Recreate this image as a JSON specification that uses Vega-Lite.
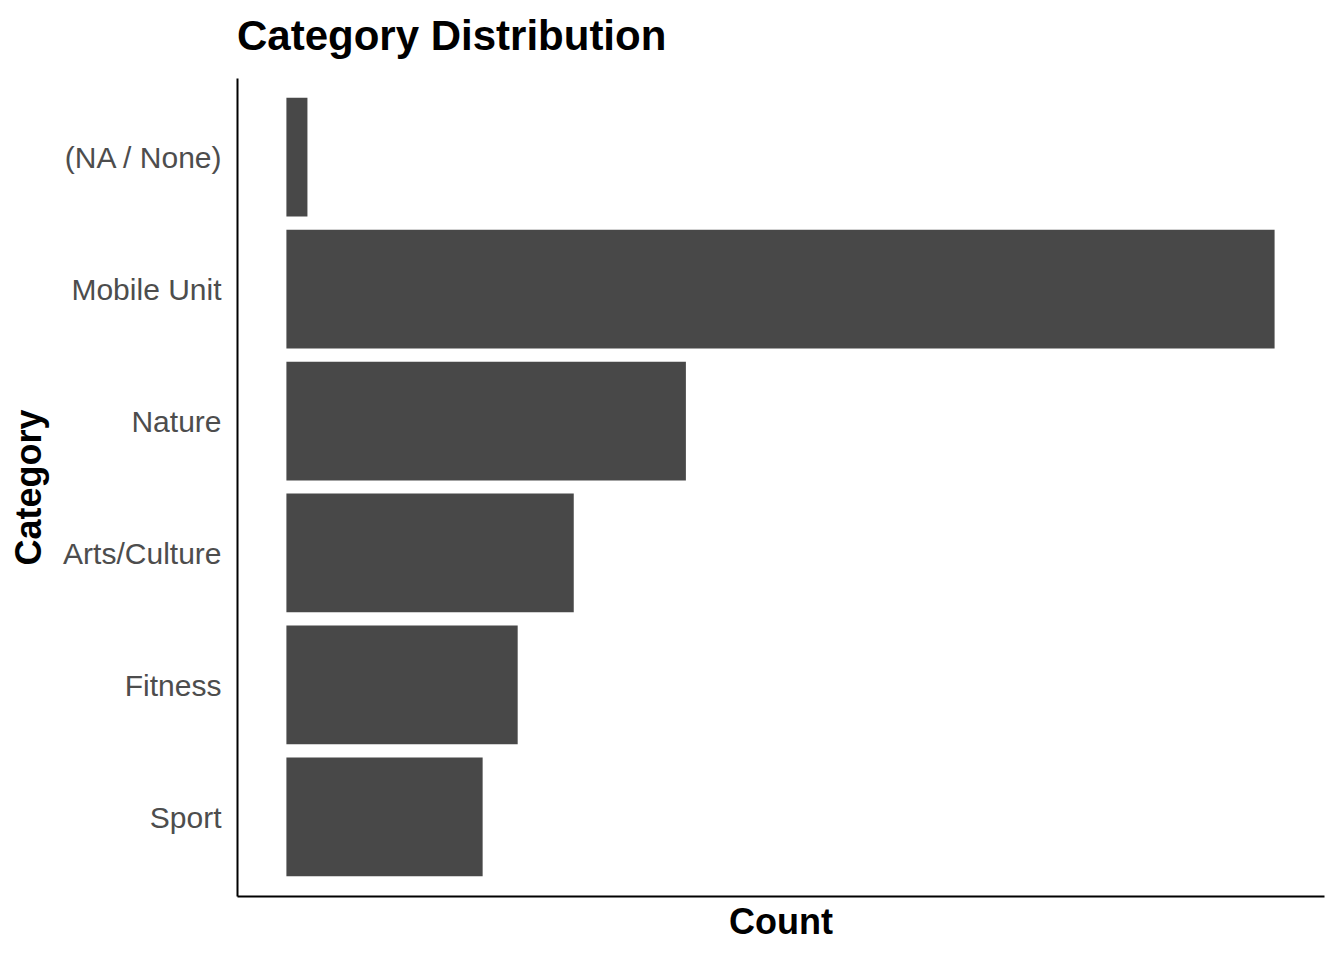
{
  "$schema": "https://vega.github.io/schema/vega-lite/v6.json",
  "description": "Category Distribution",
  "autosize": "none",
  "padding": {"left": 237, "top": 78, "right": 20, "bottom": 64},
  "width": 1087,
  "height": 818,
  "background": "white",
  "title": {
    "text": "Category Distribution",
    "anchor": "start",
    "frame": "group",
    "baseline": "bottom",
    "offset": 19,
    "dy": 42,
    "font": "Liberation Sans",
    "fontSize": 42,
    "fontWeight": "bold",
    "color": "black"
  },
  "data": {
    "values": [
      {"Category": "(NA / None)", "Count": 3},
      {"Category": "Mobile Unit", "Count": 141},
      {"Category": "Nature", "Count": 57},
      {"Category": "Arts/Culture", "Count": 41},
      {"Category": "Fitness", "Count": 33},
      {"Category": "Sport", "Count": 28}
    ]
  },
  "mark": {"type": "bar", "color": "#484848"},
  "encoding": {
    "y": {
      "field": "Category",
      "type": "nominal",
      "sort": null,
      "title": "Category",
      "scale": {"paddingInner": 0.1, "paddingOuter": 0.15},
      "axis": {
        "ticks": false,
        "labelPadding": 16,
        "labelOffset": 2,
        "labelFont": "Liberation Sans",
        "labelFontSize": 30,
        "labelColor": "#4d4d4d",
        "titleFont": "Liberation Sans",
        "titleFontSize": 36,
        "titleFontWeight": "bold",
        "titleColor": "black",
        "titlePadding": 14,
        "domainColor": "black",
        "domainWidth": 2
      }
    },
    "x": {
      "field": "Count",
      "type": "quantitative",
      "title": "Count",
      "scale": {"domain": [-7.05, 148.05], "nice": false, "zero": false},
      "axis": {
        "ticks": false,
        "labels": false,
        "grid": false,
        "titleFont": "Liberation Sans",
        "titleFontSize": 36,
        "titleFontWeight": "bold",
        "titleColor": "black",
        "titleBaseline": "alphabetic",
        "titlePadding": 37,
        "domainColor": "black",
        "domainWidth": 2
      }
    },
    "x2": {"datum": 0}
  },
  "config": {
    "view": {"stroke": null},
    "axis": {"grid": false}
  }
}
